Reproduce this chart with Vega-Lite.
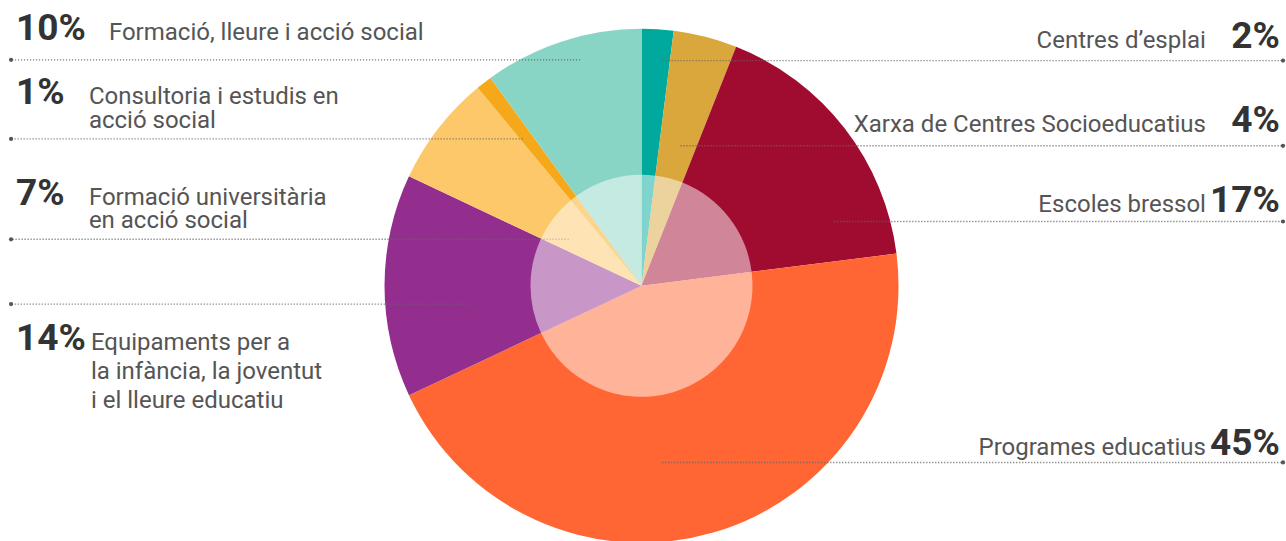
{
  "$schema": "https://vega.github.io/schema/vega-lite/v6.json",
  "autosize": {"type": "fit", "contains": "padding"},
  "width": 1286,
  "height": 541,
  "padding": 0,
  "background": "white",
  "config": {"view": {"stroke": null}},
  "datasets": {
    "shares": [
      {"category": "Centres d’esplai", "share": 0.02, "label": "Centres d’esplai"},
      {"category": "Xarxa de Centres Socioeducatius", "share": 0.04, "label": "Xarxa de Centres Socioeducatius"},
      {"category": "Escoles bressol", "share": 0.17, "label": "Escoles bressol"},
      {"category": "Programes educatius", "share": 0.45, "label": "Programes educatius"},
      {"category": "Equipaments per a la infància, la joventut i el lleure educatiu", "share": 0.14, "label": "Equipaments per a\nla infància, la joventut\ni el lleure educatiu"},
      {"category": "Formació universitària en acció social", "share": 0.07, "label": "Formació universitària\nen acció social"},
      {"category": "Consultoria i estudis en acció social", "share": 0.01, "label": "Consultoria i estudis en\nacció social"},
      {"category": "Formació, lleure i acció social", "share": 0.10, "label": "Formació, lleure i acció social"}
    ],
    "layout": [
      {"category": "Centres d’esplai", "side": "right", "anchorX": 8.2, "lineY": 88.6, "textY": 93.4, "labelX": 219.8},
      {"category": "Xarxa de Centres Socioeducatius", "side": "right", "anchorX": 15.2, "lineY": 55.1, "textY": 60.6, "labelX": 219.8},
      {"category": "Escoles bressol", "side": "right", "anchorX": 75.1, "lineY": 25.3, "textY": 29.0, "labelX": 219.8},
      {"category": "Programes educatius", "side": "right", "anchorX": 8.1, "lineY": -69.5, "textY": -66.5, "labelX": 219.8},
      {"category": "Equipaments per a la infància, la joventut i el lleure educatiu", "side": "left", "anchorX": -67.3, "lineY": -7.2, "textY": -25.3, "labelX": -214.4},
      {"category": "Formació universitària en acció social", "side": "left", "anchorX": -28.4, "lineY": 18.3, "textY": 31.9, "labelX": -215.2},
      {"category": "Consultoria i estudis en acció social", "side": "left", "anchorX": -46.3, "lineY": 57.8, "textY": 71.4, "labelX": -215.2},
      {"category": "Formació, lleure i acció social", "side": "left", "anchorX": -23.9, "lineY": 88.9, "textY": 96.9, "labelX": -207.4}
    ]
  },
  "layer": [
    {
      "data": {"name": "shares"},
      "transform": [{"window": [{"op": "row_number", "as": "rank"}]}],
      "mark": {"type": "arc", "outerRadius": 257, "strokeWidth": 0},
      "encoding": {
        "theta": {"field": "share", "type": "quantitative", "stack": true},
        "order": {"field": "rank", "type": "quantitative", "sort": "ascending"},
        "color": {
          "field": "category",
          "type": "nominal",
          "legend": null,
          "scale": {
            "domain": ["Centres d’esplai", "Xarxa de Centres Socioeducatius", "Escoles bressol", "Programes educatius", "Equipaments per a la infància, la joventut i el lleure educatiu", "Formació universitària en acció social", "Consultoria i estudis en acció social", "Formació, lleure i acció social"],
            "range": ["#00a99d", "#d9a73c", "#a00b30", "#ff6633", "#932e8e", "#fdc86a", "#f6a81b", "#88d4c5"]
          }
        },
        "x": {"datum": 0, "type": "quantitative", "scale": {"domain": [-249.81, 250.58], "nice": false, "zero": false}, "axis": null},
        "y": {"datum": 0, "type": "quantitative", "scale": {"domain": [-98.05, 112.45], "nice": false, "zero": false}, "axis": null}
      }
    },
    {
      "data": {"name": "layout"},
      "transform": [{"filter": "datum.side === 'left'"}],
      "mark": {"type": "rule", "color": "#666666", "strokeWidth": 1.4, "strokeDash": [1, 2]},
      "encoding": {
        "x": {"field": "anchorX", "type": "quantitative"},
        "x2": {"datum": -245.5},
        "y": {"field": "lineY", "type": "quantitative"}
      }
    },
    {
      "data": {"name": "layout"},
      "transform": [{"filter": "datum.side === 'right'"}],
      "mark": {"type": "rule", "color": "#666666", "strokeWidth": 1.4, "strokeDash": [1, 2]},
      "encoding": {
        "x": {"field": "anchorX", "type": "quantitative"},
        "x2": {"datum": 249.8},
        "y": {"field": "lineY", "type": "quantitative"}
      }
    },
    {
      "data": {"name": "shares"},
      "transform": [{"window": [{"op": "row_number", "as": "rank"}]}],
      "mark": {"type": "arc", "outerRadius": 111, "fill": "#ffffff", "fillOpacity": 0.5, "strokeWidth": 0},
      "encoding": {
        "theta": {"field": "share", "type": "quantitative", "stack": true},
        "order": {"field": "rank", "type": "quantitative", "sort": "ascending"},
        "x": {"datum": 0, "type": "quantitative"},
        "y": {"datum": 0, "type": "quantitative"}
      }
    },
    {
      "data": {"name": "layout"},
      "transform": [{"filter": "datum.side === 'left'"}],
      "mark": {"type": "point", "filled": true, "color": "#555555", "opacity": 1, "size": 18},
      "encoding": {
        "x": {"datum": -245.5, "type": "quantitative"},
        "y": {"field": "lineY", "type": "quantitative"}
      }
    },
    {
      "data": {"name": "layout"},
      "transform": [{"filter": "datum.side === 'right'"}],
      "mark": {"type": "point", "filled": true, "color": "#555555", "opacity": 1, "size": 18},
      "encoding": {
        "x": {"datum": 249.8, "type": "quantitative"},
        "y": {"field": "lineY", "type": "quantitative"}
      }
    },
    {
      "data": {"name": "shares"},
      "transform": [
        {"lookup": "category", "from": {"data": {"name": "layout"}, "key": "category", "fields": ["side", "textY", "labelX"]}},
        {"filter": "datum.side === 'left'"}
      ],
      "mark": {"type": "text", "align": "left", "baseline": "alphabetic", "font": "Roboto", "fontSize": 37, "fontWeight": "bold", "color": "#333333"},
      "encoding": {
        "x": {"datum": -243.6, "type": "quantitative"},
        "y": {"field": "textY", "type": "quantitative"},
        "text": {"field": "share", "type": "quantitative", "format": ".0%"}
      }
    },
    {
      "data": {"name": "shares"},
      "transform": [
        {"lookup": "category", "from": {"data": {"name": "layout"}, "key": "category", "fields": ["side", "textY", "labelX"]}},
        {"filter": "datum.side === 'right'"}
      ],
      "mark": {"type": "text", "align": "right", "baseline": "alphabetic", "font": "Roboto", "fontSize": 37, "fontWeight": "bold", "color": "#333333"},
      "encoding": {
        "x": {"datum": 248.6, "type": "quantitative"},
        "y": {"field": "textY", "type": "quantitative"},
        "text": {"field": "share", "type": "quantitative", "format": ".0%"}
      }
    },
    {
      "data": {"name": "shares"},
      "transform": [
        {"lookup": "category", "from": {"data": {"name": "layout"}, "key": "category", "fields": ["side", "textY", "labelX"]}},
        {"filter": "datum.side === 'left' && datum.share !== 0.14"}
      ],
      "mark": {"type": "text", "align": "left", "baseline": "alphabetic", "font": "Roboto", "fontSize": 24, "color": "#555555", "lineBreak": "\n", "lineHeight": 23.5},
      "encoding": {
        "x": {"field": "labelX", "type": "quantitative"},
        "y": {"field": "textY", "type": "quantitative"},
        "text": {"field": "label", "type": "nominal"}
      }
    },
    {
      "data": {"name": "shares"},
      "transform": [
        {"lookup": "category", "from": {"data": {"name": "layout"}, "key": "category", "fields": ["side", "textY", "labelX"]}},
        {"filter": "datum.side === 'left' && datum.share === 0.14"}
      ],
      "mark": {"type": "text", "align": "left", "baseline": "alphabetic", "font": "Roboto", "fontSize": 24, "color": "#555555", "lineBreak": "\n", "lineHeight": 29},
      "encoding": {
        "x": {"field": "labelX", "type": "quantitative"},
        "y": {"field": "textY", "type": "quantitative"},
        "text": {"field": "label", "type": "nominal"}
      }
    },
    {
      "data": {"name": "shares"},
      "transform": [
        {"lookup": "category", "from": {"data": {"name": "layout"}, "key": "category", "fields": ["side", "textY", "labelX"]}},
        {"filter": "datum.side === 'right'"}
      ],
      "mark": {"type": "text", "align": "right", "baseline": "alphabetic", "font": "Roboto", "fontSize": 24, "color": "#555555"},
      "encoding": {
        "x": {"field": "labelX", "type": "quantitative"},
        "y": {"field": "textY", "type": "quantitative"},
        "text": {"field": "label", "type": "nominal"}
      }
    }
  ]
}
